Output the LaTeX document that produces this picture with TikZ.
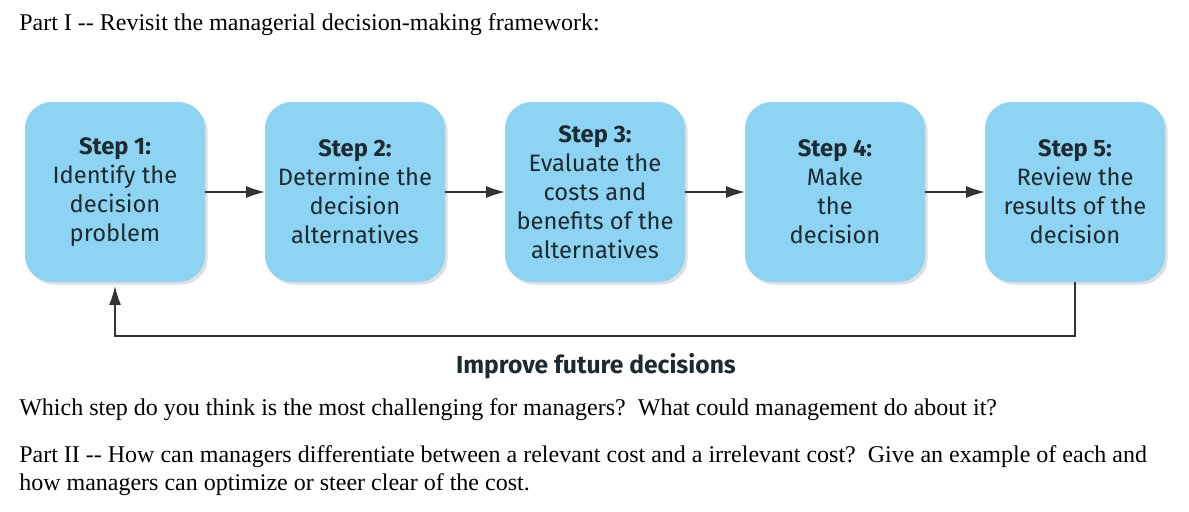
\documentclass[tikz,border=0pt]{standalone}
\usepackage{fontspec}
\setmainfont{Liberation Serif}
\newfontfamily\boxfont{Fira Sans}
\usetikzlibrary{arrows.meta,shadows}
\definecolor{boxblue}{HTML}{8DD4F3}
\definecolor{boxtext}{HTML}{1F2A30}
\tikzset{
  stepbox/.style={fill=boxblue,rounded corners=20pt,minimum width=135pt,minimum height=135pt,
    drop shadow={opacity=0.25,shadow xshift=2pt,shadow yshift=-2pt},
    font=\boxfont\fontsize{17.8}{21.7}\selectfont,text=boxtext,align=center,inner sep=0pt},
  flow/.style={draw=black!80,line width=0.9pt,-{Latex[length=14pt,width=9pt]}},
  para/.style={anchor=west,font=\fontsize{18}{20}\selectfont,inner sep=0pt}
}
\begin{document}
\begin{tikzpicture}[x=0.75pt,y=-0.75pt]
\useasboundingbox (0,0) rectangle (1189,511);
\node[para] (t1) at (19,25) {Part I -{}- Revisit the managerial decision-making framework:};
\node[stepbox] (s1) at (115,192) {\textbf{Step 1:}\\Identify the\\decision\\problem};
\node[stepbox] (s2) at (355,192) {\textbf{Step 2:}\\Determine the\\decision\\alternatives};
\node[stepbox] (s3) at (595,192) {\textbf{Step 3:}\\Evaluate the\\costs and\\benefits of the\\alternatives};
\node[stepbox] (s4) at (835,192) {\textbf{Step 4:}\\Make\\the\\decision};
\node[stepbox] (s5) at (1075,192) {\textbf{Step 5:}\\Review the\\results of the\\decision};
\draw[flow] (s1) -- (s2);
\draw[flow] (s2) -- (s3);
\draw[flow] (s3) -- (s4);
\draw[flow] (s4) -- (s5);
\coordinate (c1) at (1075,336);
\coordinate (c2) at (115,336);
\draw[flow] (s5.south) -- (c1) -- (c2) -- ([yshift=-3pt]s1.south);
\node[font=\boxfont\bfseries\fontsize{18.5}{20}\selectfont,text=boxtext] (imp) at (596,366) {Improve future decisions};
\node[para] (q1) at (19,410) {Which step do you think is the most challenging for managers?\ \ What could management do about it?};
\node[para,anchor=north west,align=left,font=\fontsize{18}{21.5}\selectfont] (q2) at (19,445) {Part II -{}- How can managers differentiate between a relevant cost and a irrelevant cost?\ \ Give an example of each and\\how managers can optimize or steer clear of the cost.};
\end{tikzpicture}
\end{document}
